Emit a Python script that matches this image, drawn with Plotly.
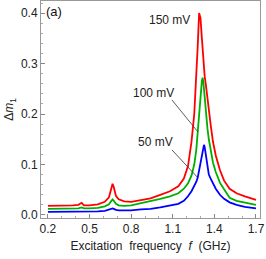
import plotly.graph_objects as go

freq = [0.20, 0.30, 0.38, 0.42, 0.443, 0.46, 0.50, 0.56, 0.61, 0.64, 0.655, 0.666, 0.675, 0.69, 0.71,
        0.75, 0.80, 0.87, 0.94, 1.01, 1.08, 1.14, 1.18, 1.21, 1.235, 1.255, 1.27, 1.28, 1.29, 1.30,
        1.31, 1.315, 1.32, 1.325, 1.33, 1.34, 1.35, 1.36, 1.375, 1.39, 1.41, 1.44, 1.47, 1.51, 1.56,
        1.62, 1.70]

dm_150 = [0.018, 0.018, 0.019, 0.020, 0.024, 0.019, 0.019, 0.021, 0.026, 0.035, 0.050, 0.062, 0.055, 0.038, 0.031,
          0.027, 0.026, 0.029, 0.033, 0.040, 0.047, 0.057, 0.072, 0.097, 0.145, 0.20, 0.27, 0.335, 0.40, 0.39,
          0.35, 0.328, 0.307, 0.29, 0.275, 0.255, 0.23, 0.21, 0.175, 0.145, 0.118, 0.089, 0.068, 0.052, 0.043,
          0.037, 0.030]

dm_100 = [0.012, 0.012, 0.013, 0.013, 0.015, 0.013, 0.013, 0.014, 0.017, 0.021, 0.027, 0.031, 0.028, 0.022, 0.019,
          0.018, 0.019, 0.023, 0.027, 0.032, 0.037, 0.043, 0.052, 0.063, 0.078, 0.10, 0.13, 0.165, 0.21, 0.245,
          0.266, 0.272, 0.265, 0.25, 0.232, 0.20, 0.172, 0.15, 0.125, 0.104, 0.085, 0.064, 0.051, 0.034, 0.028,
          0.024, 0.020]

dm_50 = [0.006, 0.006, 0.0065, 0.0065, 0.007, 0.0065, 0.0065, 0.007, 0.008, 0.010, 0.012, 0.013, 0.012, 0.010, 0.009,
         0.009, 0.009, 0.011, 0.012, 0.015, 0.018, 0.022, 0.028, 0.037, 0.047, 0.057, 0.066, 0.074, 0.088, 0.104,
         0.122, 0.130, 0.137, 0.139, 0.135, 0.115, 0.090, 0.080, 0.071, 0.062, 0.052, 0.040, 0.032, 0.025, 0.020,
         0.016, 0.013]

series = [("150 mV", dm_150, "#ff0000"), ("100 mV", dm_100, "#00b000"), ("50 mV", dm_50, "#0000ff")]

x_ticks = [0.2, 0.5, 0.8, 1.1, 1.4, 1.7]
y_ticks = [0.0, 0.1, 0.2, 0.3, 0.4]

# label text positions (data coords) and the frequency-grid index the leader line points at
labels = [("150 mV", 1.08, 0.386, None, None),
          ("100 mV", 0.964, 0.242, 27, dm_100),
          ("50 mV", 0.975, 0.145, 27, dm_50)]
line_starts = {"100 mV": (1.094, 0.228), "50 mV": (1.094, 0.129)}

FONT = "Liberation Sans, Arial, sans-serif"

fig = go.Figure()
for name, vals, col in series:
    fig.add_trace(go.Scatter(x=freq, y=vals, mode="lines", name=name,
                             line=dict(color=col, width=1.8), showlegend=False))

for text, tx, ty, idx, arr in labels:
    fig.add_annotation(x=tx, y=ty, text=text, showarrow=False, xref="x", yref="y",
                       font=dict(family=FONT, size=12, color="#222"))
    if idx is not None:
        sx, sy = line_starts[text]
        fig.add_shape(type="line", xref="x", yref="y", x0=sx, y0=sy, x1=freq[idx], y1=arr[idx],
                      line=dict(color="#333", width=0.8))

fig.add_annotation(x=0.012, y=0.995, xref="paper", yref="paper", text="(a)", showarrow=False,
                   xanchor="left", yanchor="top", font=dict(family=FONT, size=13, color="#111"))

axis_common = dict(showline=True, linecolor="#999", linewidth=1, mirror=True, showgrid=False,
                   zeroline=False, ticks="inside", ticklen=4, tickcolor="#888",
                   tickfont=dict(family=FONT, size=12, color="#222"))

fig.update_xaxes(range=[0.15, 1.729], tickvals=x_ticks, ticktext=[f"{v:.1f}" for v in x_ticks],
                 minor=dict(dtick=0.1, tick0=0.2, ticks="inside", ticklen=2, tickcolor="#aaa"),
                 title=dict(text="Excitation\u00a0\u00a0frequency\u00a0\u00a0<i>f</i>\u00a0\u00a0(GHz)",
                            font=dict(family=FONT, size=12, color="#222"), standoff=6),
                 **axis_common)
fig.update_yaxes(range=[-0.006, 0.424], tickvals=y_ticks, ticktext=[f"{v:.1f}" for v in y_ticks],
                 minor=dict(dtick=0.02, tick0=0, ticks="inside", ticklen=2, tickcolor="#aaa"),
                 title=dict(text="Δ<i>m</i><sub>1</sub>", font=dict(family=FONT, size=12, color="#222"),
                            standoff=4),
                 **axis_common)

fig.update_layout(width=266, height=259, margin=dict(l=41, r=6, t=1, b=41),
                  plot_bgcolor="white", paper_bgcolor="white")

fig.write_html("out.html", config={"displayModeBar": False},
               post_script="document.body.style.margin='0';document.body.style.overflow='hidden';")
